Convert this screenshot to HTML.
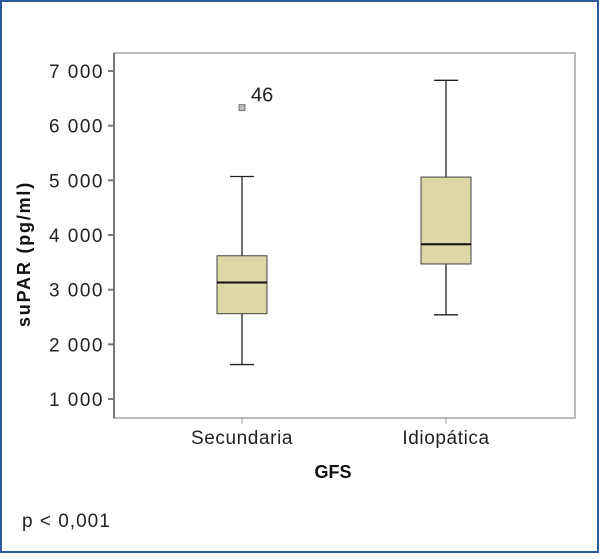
<!DOCTYPE html>
<html><head><meta charset="utf-8"><style>
body{margin:0;background:#fff;}
svg text{font-family:"Liberation Sans",sans-serif;}
</style></head><body>
<svg width="600" height="554" viewBox="0 0 600 554">
<rect x="1" y="1" width="597" height="551" fill="#fff" stroke="#2a5a9a" stroke-width="2"/>
<rect x="114" y="53" width="461" height="365" fill="#fff" stroke="#bbb" stroke-width="2"/>
<line x1="114" y1="53" x2="114" y2="418" stroke="#777" stroke-width="2"/>
<g id="yticks"></g>
<g id="boxes"></g>
<text x="30" y="254" font-size="18" font-weight="bold" letter-spacing="1.8" fill="#111" transform="rotate(-90 30 254)" text-anchor="middle">suPAR (pg/ml)</text>
<text x="333" y="478" font-size="18" font-weight="bold" fill="#111" text-anchor="middle">GFS</text>
<text x="22" y="527" font-size="19" letter-spacing="1" fill="#222">p &lt; 0,001</text>
</svg>
<script>
const categories=["Secundaria","Idiopática"];
const whiskerHigh=[5070,6830];
const q3=[3620,5060];
const medians=[3130,3830];
const q1=[2560,3470];
const whiskerLow=[1630,2540];
const outlierValues=[6330];
const outlierCats=[0];
const outlierLabels=["46"];
const yTicks=[1000,2000,3000,4000,5000,6000,7000];
const yTickLabels=["1 000","2 000","3 000","4 000","5 000","6 000","7 000"];
const NS="http://www.w3.org/2000/svg";
function y(v){return 399-(v-1000)*(328/6000);}
function x(i){return 242+i*204;}
function mk(tag,attrs,parent){const e=document.createElementNS(NS,tag);for(const k in attrs)e.setAttribute(k,attrs[k]);parent.appendChild(e);return e;}
const yt=document.getElementById('yticks');
yTicks.forEach((v,i)=>{
  const l=mk('line',{x1:108,x2:114,y1:y(v),y2:y(v),stroke:'#777','stroke-width':2},yt);
  
  
  const t=mk('text',{x:104,y:y(v)+7,'font-size':19,'letter-spacing':1.5,'text-anchor':'end',fill:'#222'},yt);
  t.textContent=yTickLabels[i];
  
  
});
const bx=document.getElementById('boxes');
categories.forEach((c,i)=>{
  const cx=x(i),w=50;
  const g=mk('g',{},bx);
  
  
  mk('line',{x1:cx,x2:cx,y1:y(whiskerHigh[i]),y2:y(q3[i]),stroke:'#222','stroke-width':1.3},g);
  mk('line',{x1:cx,x2:cx,y1:y(q1[i]),y2:y(whiskerLow[i]),stroke:'#222','stroke-width':1.3},g);
  mk('line',{x1:cx-12,x2:cx+12,y1:y(whiskerHigh[i]),y2:y(whiskerHigh[i]),stroke:'#222','stroke-width':1.3},g);
  mk('line',{x1:cx-12,x2:cx+12,y1:y(whiskerLow[i]),y2:y(whiskerLow[i]),stroke:'#222','stroke-width':1.3},g);
  mk('rect',{x:cx-w/2,y:y(q3[i]),width:w,height:y(q1[i])-y(q3[i]),fill:'#dcd8a8',stroke:'#444','stroke-width':1},g);
  mk('line',{x1:cx-w/2,x2:cx+w/2,y1:y(medians[i]),y2:y(medians[i]),stroke:'#111','stroke-width':2},g);
  mk('line',{x1:cx,x2:cx,y1:418,y2:424,stroke:'#aaa','stroke-width':1},g);
  const t=mk('text',{x:cx,y:444,'font-size':19,'letter-spacing':0.6,'text-anchor':'middle',fill:'#222'},g);
  t.textContent=c;
  
  
});
outlierValues.forEach((v,j)=>{
  const cx=x(outlierCats[j]);
  const r=mk('rect',{x:cx-3,y:y(v)-3,width:6,height:6,fill:'#bbb',stroke:'#777','stroke-width':1},bx);
  
  
  const t=mk('text',{x:cx+9,y:y(v)-6,'font-size':20,fill:'#222'},bx);
  t.textContent=outlierLabels[j];
  
  
});
</script>
</body></html>
